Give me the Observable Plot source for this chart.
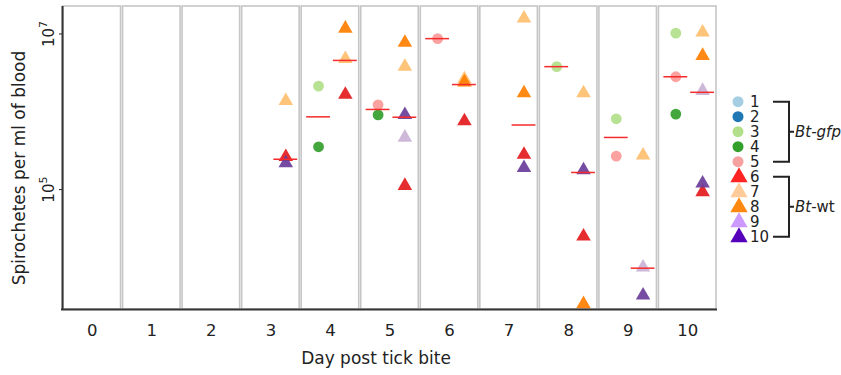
<!DOCTYPE html>
<html><head><meta charset="utf-8">
<script src="https://cdn.jsdelivr.net/npm/d3@7"></script>
<script src="https://cdn.jsdelivr.net/npm/@observablehq/plot@0.6"></script>
<style>
body{margin:0;background:#fff;}
#wrap{position:relative;width:841px;height:375px;overflow:hidden;background:#fff;}
#legend{position:absolute;left:0;top:0;pointer-events:none;}
</style></head><body><div id="wrap"></div>
<script>
// ---- data (log10 spirochetes per ml of blood; null = no point) ----
const days = [0, 1, 2, 3, 4, 5, 6, 7, 8, 9, 10];
const gfpMice = ["1", "2", "3", "4", "5"];
const wtMice = ["6", "7", "8", "9", "10"];
const mouse1 = [null, null, null, null, null, null, null, null, null, null, null];
const mouse2 = [null, null, null, null, null, null, null, null, null, null, null];
const mouse3 = [null, null, null, null, 6.33, null, null, null, 6.58, 5.91, 7.01];
const mouse4 = [null, null, null, null, 5.55, 5.96, null, null, null, null, 5.97];
const mouse5 = [null, null, null, null, null, 6.09, 6.94, null, null, 5.43, 6.45];
const mouse6 = [null, null, null, 5.42, 6.22, 5.05, 5.88, 5.45, 4.40, null, 4.97];
const mouse7 = [null, null, null, 6.14, 6.68, 6.58, 6.42, 7.20, 6.24, 5.44, 7.02];
const mouse8 = [null, null, null, null, 7.07, 6.89, 6.38, 6.24, 3.53, null, 6.72];
const mouse9 = [null, null, null, null, null, 5.67, null, null, null, 4.00, 6.27];
const mouse10 = [null, null, null, 5.34, null, 5.96, null, 5.28, 5.25, 3.64, 5.08];
const gfpMedian = [null, null, null, null, 5.935, 6.03, 6.94, null, 6.58, 5.67, 6.45];
const wtMedian = [null, null, null, 5.39, 6.66, 5.93, 6.35, 5.83, 5.22, 3.99, 6.25];
const yTickExp = [5, 7];
const yDomainExp = [3.459, 7.353];
const dotColors = ["#a6cee3", "#1f78b4", "#b2df8a", "#33a02c", "#fb9a99",
                   "#e31a1c", "#fdbf6f", "#ff7f00", "#cab2d6", "#6a3d9a"];
const legendColors = ["#a6cee3", "#1f78b4", "#b2df8a", "#33a02c", "#f7a0a0",
                      "#ff2424", "#ffcc99", "#ff8811", "#cc99ff", "#5500bb"];
const groupLabels = ["Bt-gfp", "Bt-wt"];

// ---- build tables ----
const seriesGfp = [mouse1, mouse2, mouse3, mouse4, mouse5];
const seriesWt = [mouse6, mouse7, mouse8, mouse9, mouse10];
const offset = {gfp: -0.2, wt: 0.25};
function pts(series, names, group, colorStart) {
  const out = [];
  series.forEach((vals, i) => vals.forEach((v, d) => {
    if (v != null) out.push({day: days[d], mouse: names[i], group, value: 10 ** v, color: dotColors[colorStart + i]});
  }));
  return out;
}
const gfpPts = pts(seriesGfp, gfpMice, "gfp", 0);
const wtPts = pts(seriesWt, wtMice, "wt", 5);
const medians = [];
gfpMedian.forEach((v, d) => { if (v != null) medians.push({day: days[d], group: "gfp", value: 10 ** v}); });
wtMedian.forEach((v, d) => { if (v != null) medians.push({day: days[d], group: "wt", value: 10 ** v}); });

const yMin = 10 ** yDomainExp[0], yMax = 10 ** yDomainExp[1];
const xDomain = [days[0] - 0.5, days[days.length - 1] + 0.5];
const font = "DejaVu Sans";

const chart = Plot.plot({
  width: 841, height: 375,
  marginLeft: 62, marginRight: 124, marginTop: 6, marginBottom: 66,
  style: {fontFamily: font, fontSize: "16.5px", color: "#222", background: "transparent"},
  x: {type: "linear", domain: xDomain, ticks: days, tickSize: 0, tickPadding: 15, tickFormat: d => String(d), label: null},
  y: {type: "log", domain: [yMin, yMax], ticks: yTickExp.map(e => 10 ** e),
      tickFormat: d => "10^" + Math.round(Math.log10(d)),
      tickRotate: -90, tickSize: 3, tickPadding: 6, label: null},
  color: {type: "identity"},
  marks: [
    Plot.rect(days, {x1: d => d - 0.5, x2: d => d + 0.5, y1: yMin, y2: yMax, insetLeft: 1, insetRight: 1,
      fill: "white", stroke: "#c6c6c6", strokeWidth: 1.6}),
    Plot.dot(gfpPts, {x: d => d.day + offset.gfp, y: "value", fill: "color", symbol: "circle", r: 5.4, fillOpacity: 0.92}),
    Plot.dot(wtPts, {x: d => d.day + offset.wt, y: "value", fill: "color", symbol: "triangle", r: 5.4, fillOpacity: 0.92}),
    Plot.ruleY(medians, {x1: d => d.day + offset[d.group] - 0.2, x2: d => d.day + offset[d.group] + 0.2, y: "value",
      stroke: "#f52a2a", strokeWidth: 1.5}),
    Plot.ruleX([xDomain[0]], {stroke: "#333", strokeWidth: 2}),
    Plot.ruleY([yMin], {stroke: "#333", strokeWidth: 2, insetLeft: -1}),
    Plot.text(["Day post tick bite"], {frameAnchor: "bottom", dy: 54, dx: -14, fontSize: 17, fill: "#222"}),
    Plot.text(["Spirochetes per ml of blood"], {frameAnchor: "left", textAnchor: "middle", rotate: -90, dx: -43, dy: 10, fontSize: 17, fill: "#222"})
  ]
});
// superscript exponents on the y tick labels
d3.select(chart).selectAll("text").each(function () {
  const s = this.textContent;
  if (/^10\^\d+$/.test(s)) {
    const exp = s.split("^")[1];
    const t = d3.select(this);
    t.text(null);
    t.append("tspan").attr("font-size", "15px").text("10");
    t.append("tspan").attr("font-size", "11px").attr("dy", "-0.6em").text(exp);
  }
});
const wrap = document.getElementById("wrap");
wrap.appendChild(chart);

// ---- legend (right side) ----
const leg = d3.select(wrap).append("svg").attr("id", "legend").attr("width", 841).attr("height", 375)
  .style("font-family", font);
const allMice = gfpMice.concat(wtMice);
const lx = 738, ly0 = 101.7, step = 15;
allMice.forEach((m, i) => {
  const y = ly0 + i * step;
  const isGfp = i < gfpMice.length;
  leg.append("path")
    .attr("d", d3.symbol(isGfp ? d3.symbolCircle : d3.symbolTriangle, isGfp ? 95 : 130)())
    .attr("transform", `translate(${lx + (isGfp ? 0 : 1)},${y + (isGfp ? 0 : 0.5)})`)
    .attr("fill", legendColors[i]);
  leg.append("text").attr("x", 750).attr("y", y).attr("dy", "0.36em")
    .attr("font-size", 15).attr("fill", "#222").text(m);
});
function bracket(i0, i1, label) {
  const y0 = ly0 + i0 * step, y1 = ly0 + i1 * step, ym = (y0 + y1) / 2;
  leg.append("path").attr("d", `M773,${y0}H789V${y1}H773M789,${ym}H794`)
    .attr("fill", "none").attr("stroke", "#222").attr("stroke-width", 2);
  const t = leg.append("text").attr("x", 795).attr("y", ym).attr("dy", "0.36em")
    .attr("font-size", 15).attr("fill", "#222");
  const parts = label.split("-");
  t.append("tspan").attr("font-style", "italic").text(parts[0]);
  t.append("tspan").attr("font-style", parts[1] === "gfp" ? "italic" : "normal").text("-" + parts[1]);
}
bracket(0, 4, groupLabels[0]);
bracket(5, 9, groupLabels[1]);
</script></body></html>
